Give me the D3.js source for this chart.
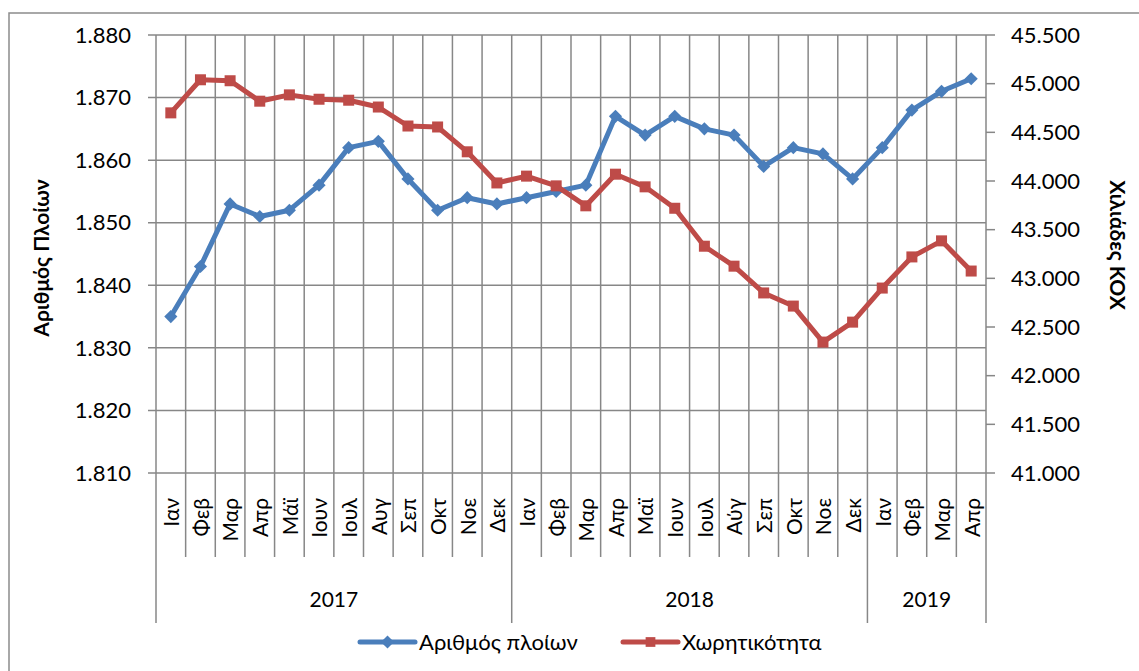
<!DOCTYPE html>
<html>
<head>
<meta charset="utf-8">
<script src="https://cdn.jsdelivr.net/npm/d3@7"></script>
<style>
  body { margin: 0; background: #fff; }
  svg { display: block; font-family: Lato, "Liberation Sans", sans-serif; }
</style>
</head>
<body>
<div id="chart"></div>
<script>
// Months (category labels) and years
const months = ['Ιαν','Φεβ','Μαρ','Απρ','Μάϊ','Ιουν','Ιουλ','Αυγ','Σεπ','Οκτ','Νοε','Δεκ',
                'Ιαν','Φεβ','Μαρ','Απρ','Μαϊ','Ιουν','Ιουλ','Αύγ','Σεπ','Οκτ','Νοε','Δεκ',
                'Ιαν','Φεβ','Μαρ','Απρ'];
const years = [{ label: '2017', start: 0, end: 12 }, { label: '2018', start: 12, end: 24 }, { label: '2019', start: 24, end: 28 }];

// Αριθμός πλοίων (left axis)
const ships = [1835, 1843, 1853, 1851, 1852, 1856, 1862, 1863, 1857, 1852, 1854, 1853,
               1854, 1855, 1856, 1867, 1864, 1867, 1865, 1864, 1859, 1862, 1861, 1857,
               1862, 1868, 1871, 1873];

// Χωρητικότητα, χιλιάδες ΚΟΧ (right axis)
const capacity = [44700, 45040, 45030, 44820, 44885, 44840, 44830, 44760, 44565, 44555, 44300, 43980,
                  44050, 43950, 43745, 44070, 43940, 43720, 43330, 43125, 42850, 42715, 42345, 42550,
                  42900, 43220, 43385, 43075];

const leftTicks = [1810, 1820, 1830, 1840, 1850, 1860, 1870, 1880];
const rightTicks = [41000, 41500, 42000, 42500, 43000, 43500, 44000, 44500, 45000, 45500];

const width = 1139, height = 671;
const plot = { left: 156, right: 986, top: 35, bottom: 473 };
const gridColor = '#878787';
const blue = '#4a7ebb', red = '#be4b48';

const el = d3.formatLocale({ decimal: ',', thousands: '.', grouping: [3], currency: ['€', ''] });
const fmt = el.format(',');

const svg = d3.select('#chart').append('svg')
  .attr('width', width)
  .attr('height', height);

// outer frame
svg.append('rect')
  .attr('x', 9).attr('y', 13)
  .attr('width', width).attr('height', height)
  .attr('fill', 'none')
  .attr('stroke', '#8c8c8c')
  .attr('stroke-width', 1.5);

const x = d3.scaleBand()
  .domain(d3.range(months.length))
  .range([plot.left, plot.right])
  .padding(0);
const cx = i => x(i) + x.bandwidth() / 2;
const edge = i => i < months.length ? x(i) : plot.right;

const yL = d3.scaleLinear().domain([1810, 1880]).range([plot.bottom, plot.top]);
const yR = d3.scaleLinear().domain([41000, 45500]).range([plot.bottom, plot.top]);

// horizontal gridlines + left ticks
svg.append('g')
  .selectAll('line')
  .data(leftTicks)
  .enter().append('line')
  .attr('x1', plot.left - 8)
  .attr('x2', plot.right)
  .attr('y1', d => yL(d))
  .attr('y2', d => yL(d))
  .attr('stroke', gridColor)
  .attr('stroke-width', 1.5);

// vertical gridlines at category boundaries (extend below as month separators)
svg.append('g')
  .selectAll('line')
  .data(d3.range(months.length + 1).map(edge))
  .enter().append('line')
  .attr('x1', d => d)
  .attr('x2', d => d)
  .attr('y1', plot.top)
  .attr('y2', 557)
  .attr('stroke', gridColor)
  .attr('stroke-width', 1.5);

// year separators
svg.append('g')
  .selectAll('line')
  .data([0, 12, 24, 28].map(edge))
  .enter().append('line')
  .attr('x1', d => d)
  .attr('x2', d => d)
  .attr('y1', 557)
  .attr('y2', 623)
  .attr('stroke', gridColor)
  .attr('stroke-width', 1.5);

// right axis ticks
svg.append('g')
  .selectAll('line')
  .data(rightTicks)
  .enter().append('line')
  .attr('x1', plot.right)
  .attr('x2', plot.right + 9)
  .attr('y1', d => yR(d))
  .attr('y2', d => yR(d))
  .attr('stroke', gridColor)
  .attr('stroke-width', 1.5);

// left tick labels
svg.append('g')
  .selectAll('text')
  .data(leftTicks)
  .enter().append('text')
  .attr('x', 131)
  .attr('y', d => yL(d))
  .attr('dy', '0.35em')
  .attr('text-anchor', 'end')
  .attr('font-size', 22)
  .text(d => fmt(d));

// right tick labels
svg.append('g')
  .selectAll('text')
  .data(rightTicks)
  .enter().append('text')
  .attr('x', 1011)
  .attr('y', d => yR(d))
  .attr('dy', '0.35em')
  .attr('font-size', 22)
  .text(d => fmt(d));

// month labels
svg.append('g')
  .selectAll('text')
  .data(months)
  .enter().append('text')
  .attr('transform', (d, i) => `translate(${cx(i) + 1},498) rotate(-90)`)
  .attr('text-anchor', 'end')
  .attr('dy', '0.35em')
  .attr('font-size', 21)
  .text(d => d);

// year labels
svg.append('g')
  .selectAll('text')
  .data(years)
  .enter().append('text')
  .attr('x', d => (edge(d.start) + edge(d.end)) / 2)
  .attr('y', 600)
  .attr('dy', '0.35em')
  .attr('text-anchor', 'middle')
  .attr('font-size', 21)
  .text(d => d.label);

// axis titles
svg.append('text')
  .attr('transform', 'translate(42,258) rotate(-90)')
  .attr('text-anchor', 'middle')
  .attr('dy', '0.35em')
  .attr('font-size', 21)
  .attr('font-weight', 'bold')
  .text('Αριθμός Πλοίων');

svg.append('text')
  .attr('transform', 'translate(1117,245) rotate(90)')
  .attr('text-anchor', 'middle')
  .attr('dy', '0.35em')
  .attr('font-size', 21)
  .attr('font-weight', 'bold')
  .text('Χιλιάδες ΚΟΧ');

// series
const lineL = d3.line().x((d, i) => cx(i)).y(d => yL(d));
const lineR = d3.line().x((d, i) => cx(i)).y(d => yR(d));

svg.append('path')
  .datum(ships)
  .attr('d', lineL)
  .attr('fill', 'none')
  .attr('stroke', blue)
  .attr('stroke-width', 5)
  .attr('stroke-linejoin', 'round');

svg.append('g')
  .selectAll('path')
  .data(ships)
  .enter().append('path')
  .attr('d', d3.symbol().type(d3.symbolDiamond2).size(110))
  .attr('transform', (d, i) => `translate(${cx(i)},${yL(d)})`)
  .attr('fill', blue);

svg.append('path')
  .datum(capacity)
  .attr('d', lineR)
  .attr('fill', 'none')
  .attr('stroke', red)
  .attr('stroke-width', 5)
  .attr('stroke-linejoin', 'round');

svg.append('g')
  .selectAll('rect')
  .data(capacity)
  .enter().append('rect')
  .attr('x', (d, i) => cx(i) - 5.5)
  .attr('y', d => yR(d) - 5.5)
  .attr('width', 11)
  .attr('height', 11)
  .attr('fill', red);

// legend
const legendItems = [
  { label: 'Αριθμός πλοίων', color: blue, x: 360, marker: 'diamond' },
  { label: 'Χωρητικότητα', color: red, x: 623, marker: 'square' }
];
const lg = svg.append('g')
  .selectAll('g')
  .data(legendItems)
  .enter().append('g')
  .attr('transform', d => `translate(${d.x},642)`);

lg.append('line')
  .attr('x1', 0).attr('x2', 55)
  .attr('y1', 0).attr('y2', 0)
  .attr('stroke', d => d.color)
  .attr('stroke-width', 5)
  .attr('stroke-linecap', 'round');

lg.append('path')
  .attr('d', d => d.marker === 'diamond'
    ? d3.symbol().type(d3.symbolDiamond2).size(110)()
    : d3.symbol().type(d3.symbolSquare2).size(121)())
  .attr('transform', 'translate(27.5,0)')
  .attr('fill', d => d.color);

lg.append('text')
  .attr('x', 59)
  .attr('y', 0)
  .attr('dy', '0.35em')
  .attr('font-size', 22)
  .text(d => d.label);
</script>
</body>
</html>
